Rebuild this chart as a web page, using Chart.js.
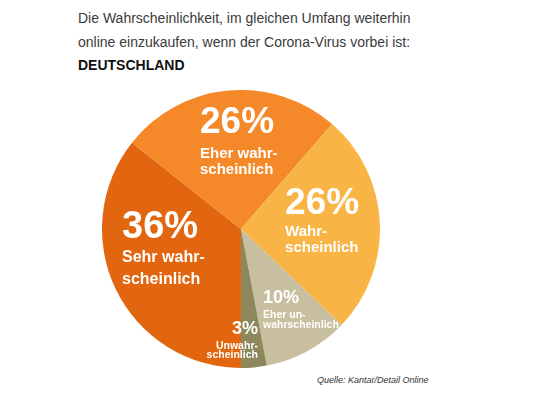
<!DOCTYPE html>
<html>
<head>
<meta charset="utf-8">
<script src="https://cdn.jsdelivr.net/npm/chart.js@4"></script>
<style>
  body { margin: 0; background: #fff; width: 540px; height: 405px; overflow: hidden; font-family: "Liberation Sans", Arial, sans-serif; }
  .t { position: absolute; left: 78px; color: #3a3a3a; font-size: 14px; white-space: nowrap; }
  #box { position: absolute; left: 102px; top: 90px; width: 278px; height: 278px; }
  #src { position: absolute; left: 317px; top: 375px; font-size: 9px; font-style: italic; color: #333; white-space: nowrap; }
</style>
</head>
<body>
<div class="t" style="top:10px">Die Wahrscheinlichkeit, im gleichen Umfang weiterhin</div>
<div class="t" style="top:34px">online einzukaufen, wenn der Corona-Virus vorbei ist:</div>
<div class="t" style="top:57px;font-weight:bold;color:#111">DEUTSCHLAND</div>
<div id="box"><canvas id="myChart"></canvas></div>
<div id="src">Quelle: Kantar/Detail Online</div>
<script>
// Werte aus der Grafik (Prozent)
const categories = ['Sehr wahr-|scheinlich', 'Eher wahr-|scheinlich', 'Wahr-|scheinlich', 'Eher un-|wahrscheinlich', 'Unwahr-|scheinlich'];
const values = [36, 26, 26, 10, 3];
const colors = ['#e2660f', '#f5892a', '#f9b446', '#c7bf9f', '#8d875c'];

// Lage der Beschriftung relativ zum Mittelpunkt (in Radius-Einheiten)
const labelStyle = [
  { fx: -0.856, fy: -0.014, align: 'left',  big: 38, small: 16, lines: [31, 53] },
  { fx: -0.295, fy: -0.766, align: 'left',  big: 37, small: 15, lines: [31, 47] },
  { fx:  0.317, fy: -0.183, align: 'left',  big: 37, small: 15, lines: [28, 44] },
  { fx:  0.158, fy:  0.50,  align: 'left',  big: 18, small: 10.5, lines: [17, 27] },
  { fx:  0.122, fy:  0.723, align: 'right', big: 18, small: 10.5, lines: [16.5, 26] },
];

const sliceLabels = {
  id: 'sliceLabels',
  afterDatasetsDraw(chart) {
    const ctx = chart.ctx;
    const meta = chart.getDatasetMeta(0);
    meta.data.forEach((arc, i) => {
      const p = arc.getProps(['x', 'y', 'outerRadius'], true);
      const s = labelStyle[i];
      const x = p.x + s.fx * p.outerRadius;
      const y = p.y + s.fy * p.outerRadius;
      ctx.save();
      ctx.fillStyle = '#fff';
      ctx.textAlign = s.align;
      ctx.textBaseline = 'middle';
      ctx.font = 'bold ' + s.big + 'px "Liberation Sans", Arial, sans-serif';
      ctx.fillText(values[i] + '%', x, y);
      ctx.font = 'bold ' + s.small + 'px "Liberation Sans", Arial, sans-serif';
      categories[i].split('|').forEach((line, k) => {
        ctx.fillText(line, x, y + s.lines[k]);
      });
      ctx.restore();
    });
  }
};

const data = {
  labels: categories,
  datasets: [{
    data: values,
    backgroundColor: colors,
    borderWidth: 0,
  }],
};

const config = {
  type: 'pie',
  data: data,
  options: {
    responsive: true,
    maintainAspectRatio: false,
    animation: false,
    rotation: 180,
    layout: { padding: 0 },
    plugins: { legend: { display: false }, tooltip: { enabled: false } },
  },
  plugins: [sliceLabels],
};

const myChart = new Chart(document.getElementById('myChart'), config);
</script>
</body>
</html>
